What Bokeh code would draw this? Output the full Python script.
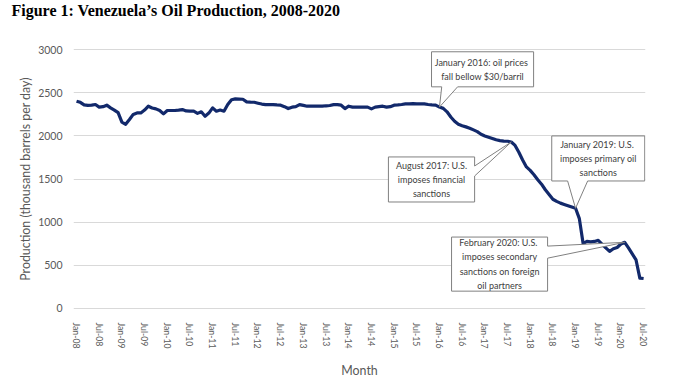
from bokeh.plotting import figure
from bokeh.models import Range1d, FixedTicker, Label, Title
from bokeh.embed import file_html
from bokeh.resources import INLINE

# ---- data -------------------------------------------------------------
tick_labels = ["Jan-08", "Jul-08", "Jan-09", "Jul-09", "Jan-10", "Jul-10",
               "Jan-11", "Jul-11", "Jan-12", "Jul-12", "Jan-13", "Jul-13",
               "Jan-14", "Jul-14", "Jan-15", "Jul-15", "Jan-16", "Jul-16",
               "Jan-17", "Jul-17", "Jan-18", "Jul-18", "Jan-19", "Jul-19",
               "Jan-20", "Jul-20"]

y_ticks = [0, 500, 1000, 1500, 2000, 2500, 3000]

production = [
    # 2008
    2403, 2390, 2360, 2355, 2357, 2365, 2334, 2340, 2357, 2326, 2300, 2270,
    # 2009
    2160, 2135, 2190, 2250, 2267, 2267, 2300, 2345, 2325, 2314, 2295, 2256,
    # 2010
    2295, 2295, 2295, 2300, 2306, 2290, 2287, 2287, 2262, 2280, 2229, 2265,
    # 2011
    2326, 2287, 2300, 2287, 2364, 2420, 2430, 2428, 2426, 2395, 2392, 2391,
    # 2012
    2380, 2370, 2364, 2364, 2364, 2360, 2357, 2340, 2318, 2334, 2340, 2364,
    # 2013
    2355, 2345, 2345, 2345, 2345, 2345, 2350, 2353, 2364, 2364, 2357, 2318,
    # 2014
    2345, 2334, 2334, 2334, 2334, 2334, 2314, 2334, 2340, 2345, 2334, 2340,
    # 2015
    2357, 2360, 2365, 2372, 2372, 2375, 2372, 2372, 2372, 2365, 2360, 2357,
    # 2016
    2335, 2320, 2280, 2220, 2170, 2135, 2118, 2105, 2090, 2070, 2050, 2020,
    # 2017
    2000, 1985, 1970, 1955, 1946, 1940, 1938, 1930, 1890, 1810, 1720, 1640,
    # 2018
    1600, 1550, 1492, 1440, 1375, 1320, 1265, 1240, 1220, 1205, 1190, 1175,
    # 2019
    1160, 1040, 750, 775, 770, 775, 787, 745, 700, 660, 690, 705,
    # 2020
    745, 765, 700, 630, 560, 350, 345,
]
months = list(range(len(production)))

# annotation events: (month index, text)
events = [
    (96, "January 2016:  oil prices\nfall bellow $30/barril"),
    (115, "August 2017: U.S.\nimposes financial\nsanctions"),
    (132, "January 2019:  U.S.\nimposes primary oil\nsanctions"),
    (145, "February 2020:  U.S.\nimposes secondary\nsanctions on foreign\noil partners"),
]

# ---- layout / style ---------------------------------------------------
FONT = "Lato"
GRAY = "#595959"
LINE = "#12296B"

p = figure(frame_width=572, frame_height=261, output_backend="svg",
           toolbar_location=None,
           x_range=Range1d(-0.8, 150.5), y_range=Range1d(-15, 3015),
           min_border_left=71, min_border_right=17, min_border_top=48,
           min_border_bottom=59)
p.outline_line_color = None
p.background_fill_color = "white"
p.border_fill_color = "white"

p.title.text = "Figure 1: Venezuela\u2019s Oil Production, 2008-2020"
p.title.text_font = "Liberation Serif"
p.title.text_font_size = "16px"
p.title.text_font_style = "bold"
p.title.text_color = "black"
p.title.align = "left"
p.title.vertical_align = "top"
p.title.offset = -62
p.title.standoff = 0

# empty spacers so the side panels are filled exactly
p.add_layout(Title(text=" ", text_font_size="1px", standoff=25), "above")
p.add_layout(Title(text=" ", text_font_size="1px", standoff=12), "left")

p.xaxis.ticker = FixedTicker(ticks=list(range(0, 151, 6)))
p.xaxis.major_label_overrides = {i * 6: t for i, t in enumerate(tick_labels)}
p.xaxis.major_label_orientation = "vertical"
p.yaxis.ticker = FixedTicker(ticks=y_ticks)

for ax in (p.xaxis, p.yaxis):
    ax.axis_line_color = None
    ax.major_tick_line_color = None
    ax.minor_tick_line_color = None
    ax.major_label_text_font = FONT
    ax.major_label_text_color = GRAY
    ax.axis_label_text_font = FONT
    ax.axis_label_text_color = GRAY
    ax.axis_label_text_font_style = "normal"
    ax.axis_label_text_font_size = "12.4px"

p.xaxis.major_label_text_font_size = "8.7px"
p.xaxis.major_label_standoff = 7
p.xaxis.axis_label = "Month"
p.xaxis.axis_label_standoff = 12
p.yaxis.major_label_text_font_size = "10.5px"
p.yaxis.major_label_standoff = 5
p.yaxis.axis_label = "Production (thousand barrels per day)"
p.yaxis.axis_label_standoff = 2

p.xgrid.grid_line_color = None
p.ygrid.grid_line_color = "#D9D9D9"
p.ygrid.grid_line_width = 1

p.line(months, production, line_color=LINE, line_width=3.2, line_join="round")

# ---- callout boxes ----------------------------------------------------
# box geometry in data space: (left, right, top, bottom, wedge side, wedge a, wedge b)
boxes = [
    (93.9, 120.9, 2977, 2570, "bottom", 96.6, 100.8),
    (82.5, 105.3, 1756, 1233, "right", 1651, 1535),
    (125.7, 150.3, 2000, 1477, "bottom", 129.9, 135.2),
    (99.2, 124.6, 826, 198, "right", 721, 581),
]

for (m, txt), (l, r, t, b, side, a, c) in zip(events, boxes):
    tip = (months[m], production[m])
    if side == "bottom":
        xs = [l, r, r, c, tip[0], a, l]
        ys = [t, t, b, b, tip[1], b, b]
    else:
        xs = [l, r, r, tip[0], r, r, l]
        ys = [t, t, a, tip[1], c, b, b]
    p.patch(xs, ys, fill_color="white", line_color="#808080", line_width=1)
    p.add_layout(Label(x=(l + r) / 2, y=(t + b) / 2, text=txt,
                       text_align="center", text_baseline="middle",
                       text_font=FONT, text_font_size="9px",
                       text_color="#404040", text_line_height=1.3))

open("out.html", "w").write(file_html(p, INLINE))
